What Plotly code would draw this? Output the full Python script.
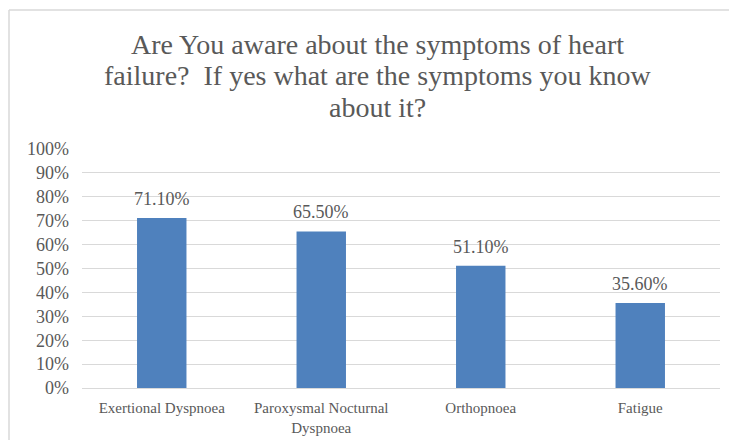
import plotly.graph_objects as go

categories = ["Exertional Dyspnoea", "Paroxysmal Nocturnal<br>Dyspnoea", "Orthopnoea", "Fatigue"]
values = [0.711, 0.655, 0.511, 0.356]
value_labels = ["71.10%", "65.50%", "51.10%", "35.60%"]
tick_vals = [i / 10 for i in range(11)]
tick_text = [f"{i*10}%" for i in range(11)]

title_lines = ["Are You aware about the symptoms of heart",
               "failure?  If yes what are the symptoms you know",
               "about it?"]

FONT = "Liberation Serif"
GREY = "#595959"

# plot area in pixels: x 82..720, y 149..388
PL, PR, PT, PB = 82, 720, 149, 388
def py(pix):
    return (PB - pix) / (PB - PT)
def px(pix):
    return (pix - PL) / (PR - PL)

fig = go.Figure()
fig.add_trace(go.Bar(
    x=categories, y=values,
    marker=dict(color="#4F81BD", line=dict(width=0)),
    width=0.31,
    hoverinfo="skip",
))

for c, v, t in zip(categories, values, value_labels):
    fig.add_annotation(x=c, y=v, text=t, showarrow=False, yanchor="bottom",
                       yshift=7, font=dict(family=FONT, size=18, color=GREY))

for line, yc in zip(title_lines, [44, 76, 107]):
    fig.add_annotation(xref="paper", yref="paper", x=px(377), y=py(yc),
                       text=line, showarrow=False, xanchor="center", yanchor="middle",
                       font=dict(family=FONT, size=28, color=GREY))

fig.update_layout(
    width=729, height=440,
    margin=dict(l=PL, r=729 - PR, t=PT, b=440 - PB),
    paper_bgcolor="white", plot_bgcolor="white",
    showlegend=False,
    xaxis=dict(showgrid=False, showline=False, ticks="", automargin=False,
               tickfont=dict(family=FONT, size=15, color=GREY),
               ticklabelstandoff=9,
               range=[-0.5, 3.5]),
    yaxis=dict(range=[0, 1], tickvals=tick_vals, ticktext=tick_text,
               showgrid=True, gridcolor="#D9D9D9", gridwidth=1,
               zeroline=True, zerolinecolor="#D9D9D9", zerolinewidth=1,
               showline=False, ticks="", automargin=False,
               ticklabelstandoff=12,
               tickfont=dict(family=FONT, size=18, color=GREY)),
)

# chart outer border (top and left edges visible in the crop)
bx, by = px(9), py(10)
fig.add_shape(type="line", xref="paper", yref="paper",
              x0=bx, x1=1.1, y0=by, y1=by,
              line=dict(color="#D9D9D9", width=1.5))
fig.add_shape(type="line", xref="paper", yref="paper",
              x0=bx, x1=bx, y0=by, y1=py(445),
              line=dict(color="#D9D9D9", width=1.5))

fig.write_html("out.html")
